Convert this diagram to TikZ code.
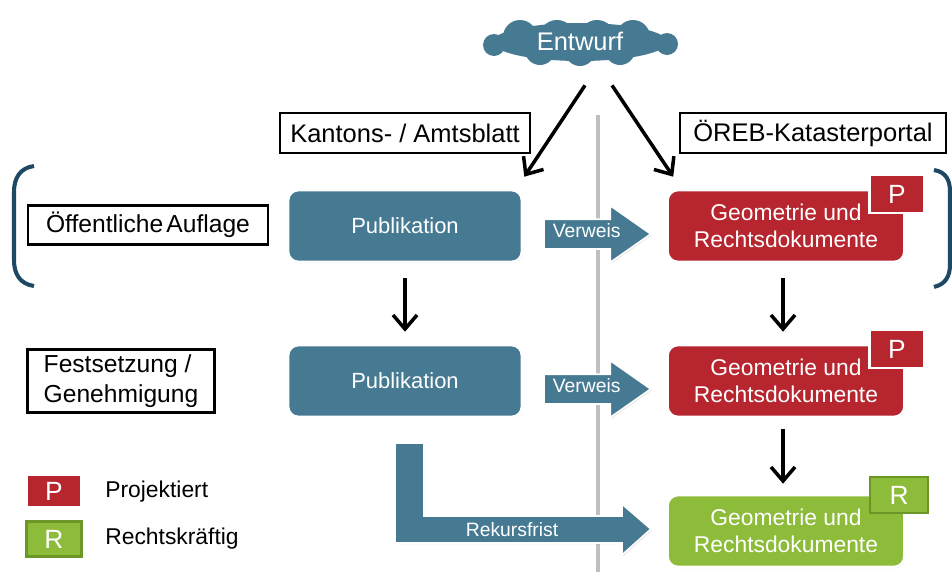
\documentclass[tikz,border=0pt]{standalone}
\usepackage{fontspec}
\setmainfont{Liberation Sans}
\usetikzlibrary{arrows.meta,shapes.arrows,shadows}

\definecolor{oerebblau}{RGB}{70,122,146}
\definecolor{oerebrot}{RGB}{183,37,47}
\definecolor{oerebgruen}{RGB}{141,187,58}
\definecolor{gruenrand}{RGB}{108,150,38}
\definecolor{klammer}{RGB}{30,72,100}
\definecolor{trenngrau}{RGB}{191,191,191}

\begin{document}
\begin{tikzpicture}[x=0.02cm, y=0.02cm]
\tikzstyle{every node}+=[inner sep=0pt, text=white]
\tikzstyle{schatten}=[drop shadow={shadow xshift=0.6pt, shadow yshift=-0.6pt, opacity=0.3}]
\tikzstyle{pubbox}=[rectangle, rounded corners=6pt, fill=oerebblau, draw=white, line width=1.5pt, schatten, minimum width=4.68cm, minimum height=1.44cm, font=\fontsize{12.5}{15}\selectfont]
\tikzstyle{rotbox}=[pubbox, fill=oerebrot, minimum width=4.74cm, align=center, font=\fontsize{13}{15.5}\selectfont]
\tikzstyle{gruenbox}=[rotbox, fill=oerebgruen]
\tikzstyle{ptag}=[rectangle, fill=oerebrot, draw=white, line width=1.5pt, schatten, minimum width=1.1cm, minimum height=0.76cm, font=\fontsize{15}{18}\selectfont]
\tikzstyle{rtag}=[rectangle, fill=oerebgruen, draw=gruenrand, line width=1.2pt, schatten, minimum width=1.16cm, minimum height=0.72cm, font=\fontsize{15}{18}\selectfont]
\tikzstyle{titel}=[rectangle, fill=white, draw=black, line width=1.2pt, text=black, minimum height=0.8cm, font=\fontsize{14.5}{17}\selectfont]
\tikzstyle{phase}=[titel, inner xsep=5pt, align=left, font=\fontsize{14}{17}\selectfont]
\tikzstyle{verweis}=[single arrow, fill=oerebblau, draw=white, line width=1pt, schatten, minimum height=2.14cm, single arrow head extend=0.27cm, single arrow tip angle=70, inner xsep=3pt, inner ysep=0.1cm, text height=0.25cm, text depth=0.11cm, font=\fontsize{11}{13}\selectfont]
\tikzstyle{pfeil}=[black, line width=2pt, -{Straight Barb[length=2.8mm, width=4.8mm]}]
\tikzstyle{legende}=[text=black, anchor=west, font=\fontsize{13}{15.5}\selectfont]
\useasboundingbox (0,0) rectangle (952,-572);
\draw [trenngrau, line width=2.3pt] (598,-115) -- (598,-572);
\draw [klammer, line width=2.3pt] (34,-166) .. controls (20,-168) and (14,-178) .. (14,-192) -- (14,-260) .. controls (14,-274) and (20,-284) .. (34,-286);
\draw [klammer, line width=2.3pt] (934,-170) .. controls (946,-172) and (950,-180) .. (950,-192) -- (950,-264) .. controls (950,-276) and (946,-284) .. (934,-287);
\fill [white] (580,-42) ellipse (1.79cm and 0.42cm);
\foreach \cx/\cy/\r in {520/-37/0.38, 557/-38/0.4, 597/-38/0.4, 633/-37/0.38, 494/-45/0.26, 667/-44/0.26, 540/-50/0.34, 580/-51/0.34, 620/-50/0.34}
  \fill [white] (\cx,\cy) circle (\r cm);
\fill [oerebblau] (580,-42) ellipse (1.75cm and 0.38cm);
\foreach \cx/\cy/\r in {520/-37/0.34, 557/-38/0.36, 597/-38/0.36, 633/-37/0.34, 494/-45/0.22, 667/-44/0.22, 540/-50/0.3, 580/-51/0.3, 620/-50/0.3}
  \fill [oerebblau] (\cx,\cy) circle (\r cm);
\draw (580,-41) node [minimum width=4cm, minimum height=0.9cm, font=\fontsize{14.5}{17}\selectfont] (entwurf) {Entwurf};
\draw (405,-133) node [titel, minimum width=5cm] (kanton) {Kantons- / Amtsblatt};
\draw (813,-133) node [titel, minimum width=5.32cm] (portal) {ÖREB-Katasterportal};
\draw (148,-225) node [phase, minimum width=4.8cm, minimum height=0.78cm] (auflage) {Öffentliche\hspace{-2pt} Auflage};
\draw (121,-381) node [phase, minimum width=3.74cm, minimum height=1.26cm] (festsetzung) {Festsetzung /\\Genehmigung};
\draw (405,-226) node [pubbox] (pub1) {Publikation};
\draw (405,-381) node [pubbox] (pub2) {Publikation};
\draw (786,-226) node [rotbox] (geo1) {Geometrie und\\Rechtsdokumente};
\draw (786,-381) node [rotbox] (geo2) {Geometrie und\\Rechtsdokumente};
\draw (786,-531) node [gruenbox] (geo3) {Geometrie und\\Rechtsdokumente};
\draw (897,-194) node [ptag] (p1) {P};
\draw (897,-349) node [ptag] (p2) {P};
\draw (899,-495) node [rtag] (r1) {R};
\draw (543,-234) node [verweis, anchor=west] (verweis1) {Verweis};
\draw (543,-389) node [verweis, anchor=west] (verweis2) {Verweis};
\fill [oerebblau, draw=white, line width=1pt, schatten] (395,-443) -- (424,-443) -- (424,-516) -- (622,-516) -- (622,-504) -- (651,-529) -- (622,-555) -- (622,-543) -- (395,-543) -- cycle;
\draw (512,-530) node [font=\fontsize{11}{13}\selectfont] (rekurs) {Rekursfrist};
\draw [pfeil] ([shift={(0.1cm,-0.43cm)}]entwurf.south) -- ([shift={(0.02cm,0.24cm)}]pub1.north east);
\draw [pfeil] ([shift={(0.64cm,-0.43cm)}]entwurf.south) -- ([shift={(0.14cm,0.24cm)}]geo1.north west);
\draw [pfeil, shorten <=0.3cm, shorten >=0.24cm] (pub1.south) -- (pub2.north);
\draw [pfeil, shorten <=0.3cm, shorten >=0.24cm] ([xshift=-0.06cm]geo1.south) -- ([xshift=-0.06cm]geo2.north);
\draw [pfeil, shorten <=0.22cm, shorten >=0.2cm] ([xshift=-0.06cm]geo2.south) -- ([xshift=-0.06cm]geo3.north);
\draw (54,-491) node [ptag, minimum height=0.66cm] (legp) {P};
\draw (54,-539) node [rtag, minimum width=1.1cm, minimum height=0.7cm] (legr) {R};
\draw (105,-492) node [legende] (projektiert) {Projektiert};
\draw (105,-539) node [legende] (rechtskraeftig) {Rechtskräftig};
\end{tikzpicture}
\end{document}
